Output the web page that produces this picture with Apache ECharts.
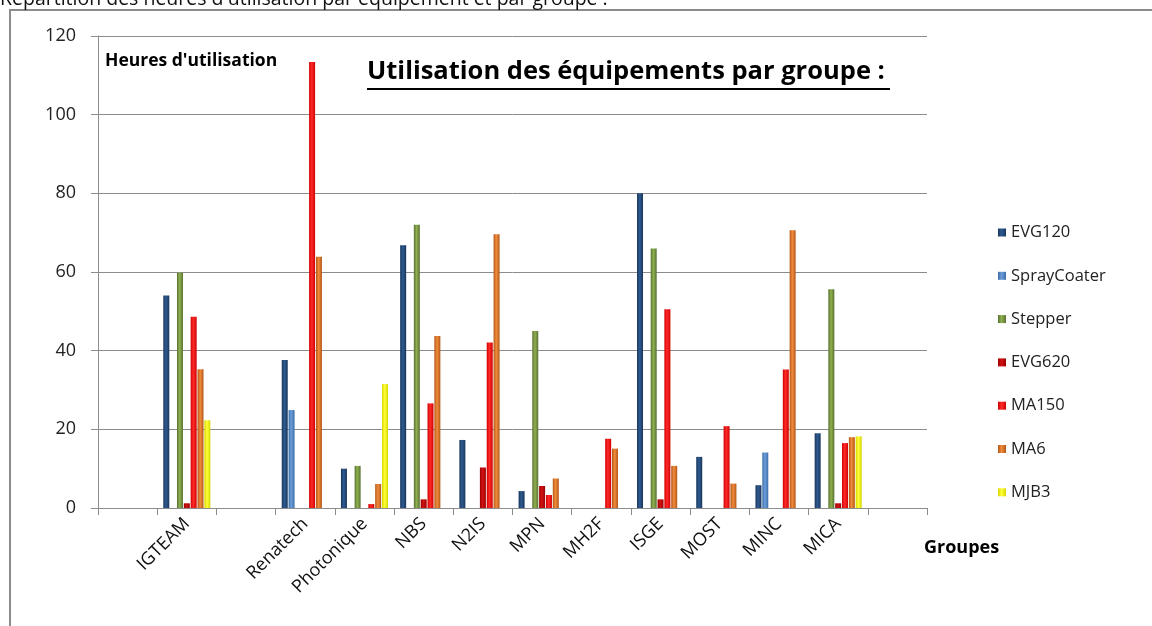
<!DOCTYPE html>
<html>
<head>
<meta charset="utf-8">
<script src="https://cdn.jsdelivr.net/npm/echarts@6/dist/echarts.min.js"></script>
<style>
	html, body { margin: 0; padding: 0; background: #fff; }
	#chart { width: 1152px; height: 626px; }
</style>
</head>
<body>
<div id="chart"></div>
<script>
	//groupes (cases vides = espaces du graphique d'origine)
	var categories = ['', 'IGTEAM', '', 'Renatech', 'Photonique', 'NBS', 'N2IS', 'MPN', 'MH2F', 'ISGE', 'MOST', 'MINC', 'MICA', ''];
	var seriesNames = ['EVG120', 'SprayCoater', 'Stepper', 'EVG620', 'MA150', 'MA6', 'MJB3'];
	//heures d'utilisation par équipement
	var evg120 = [null, 54, null, 37.6, 10, 66.8, 17.3, 4.3, 0, 80, 13, 5.8, 19, null];
	var sprayCoater = [null, 0, null, 24.9, 0, 0, 0, 0, 0, 0, 0, 14.1, 0, null];
	var stepper = [null, 59.8, null, 0, 10.7, 72, 0, 45, 0, 66, 0, 0, 55.6, null];
	var evg620 = [null, 1.2, null, 0, 0, 2.2, 10.3, 5.6, 0, 2.2, 0, 0, 1.2, null];
	var ma150 = [null, 48.6, null, 113.4, 1, 26.6, 42.1, 3.3, 17.6, 50.5, 20.8, 35.2, 16.5, null];
	var ma6 = [null, 35.3, null, 63.9, 6.1, 43.7, 69.6, 7.5, 15.1, 10.7, 6.2, 70.6, 18, null];
	var mjb3 = [null, 22.3, null, 0, 31.5, 0, 0, 0, 0, 0, 0, 0, 18.2, null];
	var yTicks = [0, 20, 40, 60, 80, 100, 120];

	var seriesData = [evg120, sprayCoater, stepper, evg620, ma150, ma6, mjb3];
	//couleurs [bord, centre]
	var colors = [
		['#18355c', '#2f5b90'],
		['#3a6da6', '#6d9ddb'],
		['#587230', '#8fb050'],
		['#990000', '#d21212'],
		['#d00000', '#ff2a2a'],
		['#b45616', '#f08c3c'],
		['#d6d600', '#ffff3a']
	];
	var FONT = '"Open Sans", "DejaVu Sans", sans-serif';

	var series = [];
	for (var i = 0; i < seriesNames.length; i++) {
		series.push({
			name: seriesNames[i],
			type: 'bar',
			data: seriesData[i],
			barWidth: 6,
			barGap: '14%',
			itemStyle: {
				color: new echarts.graphic.LinearGradient(0, 0, 1, 0, [
					{ offset: 0, color: colors[i][0] },
					{ offset: 0.45, color: colors[i][1] },
					{ offset: 1, color: colors[i][0] }
				])
			}
		});
	}

	var option = {
		animation: false,
		backgroundColor: '#fff',
		textStyle: { fontFamily: FONT },
		grid: { left: 98, right: 225, top: 36, bottom: 118, containLabel: false },
		legend: {
			orient: 'vertical',
			left: 993,
			top: 219,
			itemWidth: 8,
			itemHeight: 8,
			itemGap: 26.3,
			icon: 'rect',
			data: seriesNames,
			textStyle: { fontFamily: FONT, fontSize: 16.5, color: '#222', lineHeight: 16, padding: [0, 0, 0, 0] }
		},
		xAxis: {
			type: 'category',
			data: categories,
			axisLine: { lineStyle: { color: '#8c8c8c', width: 1 } },
			axisTick: { show: true, length: 7, lineStyle: { color: '#8c8c8c' } },
			axisLabel: { rotate: 45, interval: 0, fontSize: 18, color: '#111', fontFamily: FONT, margin: 13 }
		},
		yAxis: {
			type: 'value',
			min: yTicks[0],
			max: yTicks[yTicks.length - 1],
			interval: yTicks[1] - yTicks[0],
			axisLine: { show: true, lineStyle: { color: '#8c8c8c' } },
			axisTick: { show: true, length: 7, lineStyle: { color: '#8c8c8c' } },
			axisLabel: { fontSize: 18, color: '#222', fontFamily: FONT, margin: 22 },
			splitLine: { lineStyle: { color: '#8c8c8c', width: 1 } }
		},
		graphic: [
			//cadre
			{ type: 'polyline', shape: { points: [[10, 626], [10, 10], [1152, 10]] }, style: { stroke: '#8c8c8c', lineWidth: 2, fill: null }, silent: true },
			{ type: 'text', left: 0, top: -11, style: { text: 'Répartition des heures d\'utilisation par équipement et par groupe :', font: '19.5px ' + FONT, fill: '#111' } },
			{ type: 'text', left: 105, top: 52, style: { text: 'Heures d\'utilisation', font: 'bold 17.5px ' + FONT, fill: '#000' } },
			{ type: 'text', left: 367, top: 59, style: { text: 'Utilisation des équipements par groupe :', font: 'bold 25.5px ' + FONT, fill: '#000' } },
			{ type: 'line', shape: { x1: 367, y1: 89, x2: 890, y2: 89 }, style: { stroke: '#000', lineWidth: 2 } },
			{ type: 'text', left: 924, top: 539, style: { text: 'Groupes', font: 'bold 18px ' + FONT, fill: '#000' } }
		],
		series: series
	};

	var myChart = echarts.init(document.getElementById('chart'));
	myChart.setOption(option);
</script>
</body>
</html>
